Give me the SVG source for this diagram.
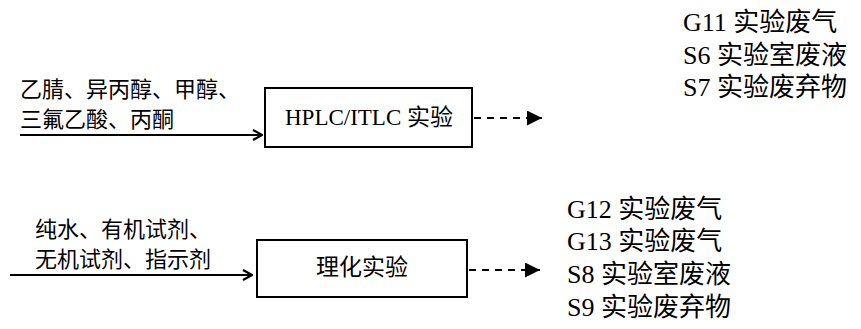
<svg xmlns="http://www.w3.org/2000/svg" width="861" height="329" viewBox="0 0 861 329">
  <style>
    .bg { fill: #ffffff; }
    .box { fill: #ffffff; stroke: #000000; stroke-width: 2; }
    .in-label { font-family: "Noto Sans CJK SC", sans-serif; font-size: 22px; fill: #000000; }
    .box-label { font-family: "Liberation Serif", "Noto Sans CJK SC", serif; font-size: 23px; fill: #000000; }
    .out-label { font-family: "Liberation Serif", "Noto Sans CJK SC", serif; font-size: 26px; fill: #000000; }
    .feed { fill: none; stroke: #000000; stroke-width: 2.2; }
    .emit { fill: none; stroke: #000000; stroke-width: 2; stroke-dasharray: 7 6; }
  </style>
  <defs>
    <marker id="open-head" viewBox="0 0 12 12" refX="11" refY="6" markerWidth="12" markerHeight="12" markerUnits="userSpaceOnUse" orient="auto">
      <path d="M2,1 L11,6 L2,11" fill="none" stroke="#000000" stroke-width="2.2"/>
    </marker>
    <marker id="solid-head" viewBox="0 0 14 14" refX="14" refY="7" markerWidth="15" markerHeight="15" markerUnits="userSpaceOnUse" orient="auto">
      <path d="M0,0 L14,7 L0,14 Z" fill="#000000"/>
    </marker>
  </defs>

  <rect class="bg" x="0" y="0" width="861" height="329"/>

  <!-- connectors: material feeds and emission arrows -->
  <g id="connectors">
    <line class="feed" x1="20" y1="135" x2="262" y2="135" marker-end="url(#open-head)"/>
    <line class="feed" x1="10" y1="275" x2="252" y2="275" marker-end="url(#open-head)"/>
    <line class="emit" x1="474" y1="118" x2="542" y2="118" marker-end="url(#solid-head)"/>
    <line class="emit" x1="469" y1="270" x2="540" y2="270" marker-end="url(#solid-head)"/>
  </g>

  <!-- HPLC/ITLC experiment -->
  <g id="hplc-inputs">
    <text class="in-label" x="20" y="97">乙腈、异丙醇、甲醇、</text>
    <text class="in-label" x="20" y="127">三氟乙酸、丙酮</text>
  </g>
  <g id="hplc-node">
    <rect class="box" x="265" y="88" width="207" height="59"/>
    <text class="box-label" x="369" y="125" text-anchor="middle">HPLC/ITLC 实验</text>
  </g>
  <g id="hplc-outputs">
    <text class="out-label" x="683" y="31">G11 实验废气</text>
    <text class="out-label" x="683" y="64">S6 实验室废液</text>
    <text class="out-label" x="683" y="96">S7 实验废弃物</text>
  </g>

  <!-- physico-chemical experiment -->
  <g id="lab-inputs">
    <text class="in-label" x="35" y="237">纯水、有机试剂、</text>
    <text class="in-label" x="35" y="267">无机试剂、指示剂</text>
  </g>
  <g id="lab-node">
    <rect class="box" x="257" y="240" width="210" height="57"/>
    <text class="box-label" x="362" y="275" text-anchor="middle">理化实验</text>
  </g>
  <g id="lab-outputs">
    <text class="out-label" x="567" y="218">G12 实验废气</text>
    <text class="out-label" x="567" y="250">G13 实验废气</text>
    <text class="out-label" x="567" y="283">S8 实验室废液</text>
    <text class="out-label" x="567" y="316">S9 实验废弃物</text>
  </g>
</svg>
